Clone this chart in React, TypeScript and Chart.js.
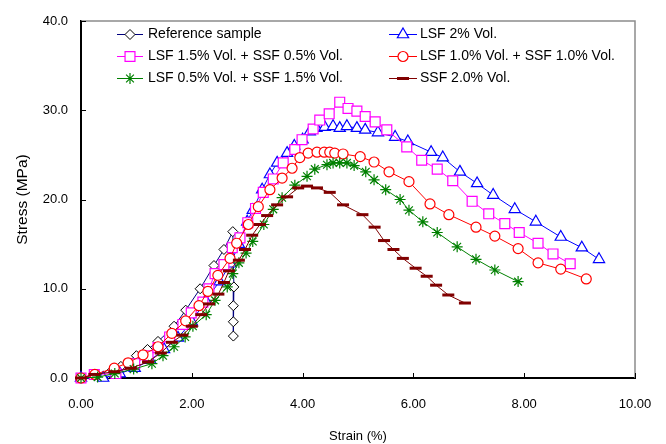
import React, { useEffect, useRef } from 'react';
import { Chart, registerables } from 'chart.js';
import { drawPoint } from 'chart.js/helpers';

Chart.register(...registerables);

const FONT = '"Liberation Sans", Arial, Helvetica, sans-serif';

const xTicks = [0, 2, 4, 6, 8, 10];
const yTicks = [0, 10, 20, 30, 40];
const xTitle = 'Strain (%)';
const yTitle = 'Stress (MPa)';

const seriesNames = [
  'Reference sample',
  'LSF 2% Vol.',
  'LSF 1.5% Vol. + SSF 0.5% Vol.',
  'LSF 1.0% Vol. + SSF 1.0% Vol.',
  'LSF 0.5% Vol. + SSF 1.5% Vol.',
  'SSF 2.0% Vol.',
];

const refX = [0, 0.25, 0.5, 0.72, 1.0, 1.2, 1.39, 1.68, 1.89, 2.15, 2.4, 2.58, 2.74, 2.76, 2.75, 2.75, 2.75];
const refY = [0, 0.3, 0.5, 1.3, 2.5, 3.2, 4.1, 5.8, 7.6, 10.0, 12.6, 14.4, 16.4, 10.2, 8.1, 6.3, 4.7];

const lsf2X = [0, 0.4, 0.7, 0.97, 1.25, 1.5, 1.75, 2.0, 2.25, 2.5, 2.7, 2.85, 3.0, 3.1, 3.27, 3.41, 3.54, 3.72, 3.85, 4.0, 4.13, 4.25, 4.4, 4.55, 4.67, 4.8, 4.98, 5.13, 5.36, 5.67, 5.9, 6.32, 6.53, 6.84, 7.15, 7.44, 7.83, 8.21, 8.66, 9.04, 9.35];
const lsf2Y = [0, 0, 0.5, 1.1, 2.0, 3.2, 4.5, 6.3, 8.7, 10.8, 12.8, 15.0, 17.5, 18.8, 21.1, 22.8, 24.1, 25.2, 26.0, 26.7, 27.6, 28.0, 28.1, 28.2, 28.0, 28.2, 28.0, 27.8, 27.5, 27.0, 26.5, 25.3, 24.7, 23.1, 21.8, 20.5, 18.9, 17.5, 15.8, 14.6, 13.3];

const lsf15X = [0, 0.24, 0.63, 0.97, 1.21, 1.39, 1.6, 1.84, 1.99, 2.2, 2.31, 2.42, 2.58, 2.73, 2.87, 3.01, 3.15, 3.29, 3.47, 3.65, 3.86, 3.99, 4.19, 4.31, 4.48, 4.67, 4.82, 4.98, 5.13, 5.31, 5.52, 5.88, 6.15, 6.43, 6.71, 7.06, 7.36, 7.65, 7.91, 8.25, 8.52, 8.83];
const lsf15Y = [0, 0.4, 0.5, 1.6, 2.5, 3.4, 4.6, 6.0, 7.3, 8.5, 10.0, 11.7, 12.7, 14.6, 15.7, 17.4, 19.0, 20.8, 22.3, 24.1, 25.6, 26.7, 27.9, 28.9, 29.6, 30.9, 30.2, 29.9, 29.3, 28.7, 27.8, 25.9, 24.4, 23.4, 22.1, 19.8, 18.4, 17.3, 16.3, 15.1, 13.9, 12.8];

const lsf10X = [0, 0.25, 0.6, 0.85, 1.12, 1.39, 1.64, 1.89, 2.13, 2.29, 2.47, 2.69, 2.81, 3.02, 3.2, 3.41, 3.63, 3.81, 3.95, 4.1, 4.26, 4.39, 4.49, 4.58, 4.73, 5.04, 5.29, 5.56, 5.92, 6.3, 6.64, 7.13, 7.47, 7.89, 8.25, 8.66, 9.12];
const lsf10Y = [0, 0.4, 1.1, 1.7, 2.6, 3.5, 5.0, 6.4, 8.1, 9.7, 11.5, 13.4, 15.1, 17.2, 19.2, 21.1, 22.4, 23.5, 24.7, 25.2, 25.3, 25.3, 25.3, 25.2, 25.1, 24.8, 24.2, 23.1, 22.0, 19.5, 18.3, 16.9, 15.9, 14.5, 12.9, 12.2, 11.1];

const lsf05X = [0, 0.3, 0.61, 0.95, 1.28, 1.48, 1.68, 1.88, 2.02, 2.26, 2.42, 2.64, 2.74, 2.85, 2.98, 3.1, 3.3, 3.47, 3.63, 3.86, 4.08, 4.22, 4.44, 4.55, 4.67, 4.8, 4.93, 5.14, 5.29, 5.5, 5.76, 5.92, 6.17, 6.43, 6.79, 7.13, 7.47, 7.89];
const lsf05Y = [0, 0.1, 0.5, 1.0, 1.6, 2.5, 3.5, 4.6, 5.8, 7.1, 8.7, 10.2, 11.7, 12.9, 14.0, 15.3, 17.2, 18.9, 20.2, 21.6, 22.6, 23.4, 23.9, 24.1, 24.1, 24.1, 23.8, 23.1, 22.2, 21.1, 20.0, 18.8, 17.5, 16.3, 14.7, 13.3, 12.1, 10.8];

const ssfX = [0, 0.24, 0.6, 0.9, 1.21, 1.44, 1.64, 1.83, 2.0, 2.17, 2.31, 2.48, 2.58, 2.67, 2.85, 2.96, 3.09, 3.23, 3.36, 3.54, 3.72, 3.92, 4.08, 4.26, 4.49, 4.73, 5.08, 5.3, 5.47, 5.64, 5.81, 6.04, 6.24, 6.41, 6.63, 6.93];
const ssfY = [0, 0.4, 0.7, 1.1, 1.8, 2.8, 4.0, 4.8, 5.8, 7.1, 8.3, 9.4, 10.7, 12.0, 13.2, 14.4, 16.0, 17.2, 18.2, 19.4, 20.3, 21.3, 21.5, 21.3, 20.8, 19.4, 18.3, 16.9, 15.4, 14.4, 13.4, 12.3, 11.4, 10.4, 9.3, 8.4];

const lineColors = ['#000080', '#0000FF', '#FF00FF', '#FF0000', '#008000', '#800000'];
const markerBorders = ['#000000', '#0000FF', '#FF00FF', '#FF0000', '#008000', '#800000'];
const markerFills = ['#FFFFFF', '#FFFFFF', '#FFFFFF', '#FFFFFF', '#008000', '#800000'];
const markerStyles = ['rectRot', 'triangle', 'rect', 'circle', 'star', 'line'];
const markerRadii = [5, 6.5, 7, 5, 5.5, 6];
const markerWidths = [1, 1.2, 1.2, 1.2, 1.2, 3];

const allX = [refX, lsf2X, lsf15X, lsf10X, lsf05X, ssfX];
const allY = [refY, lsf2Y, lsf15Y, lsf10Y, lsf05Y, ssfY];

const legendPlugin = {
  id: 'customDeco',
  beforeDatasetsDraw(chart: any) {
    const { ctx, chartArea: ca, scales } = chart;
    ctx.save();
    ctx.strokeStyle = '#8c8c8c';
    ctx.lineWidth = 1.5;
    ctx.beginPath();
    ctx.moveTo(ca.left, ca.top);
    ctx.lineTo(ca.right, ca.top);
    ctx.lineTo(ca.right, ca.bottom);
    ctx.stroke();
    ctx.strokeStyle = '#000000';
    ctx.lineWidth = 1;
    for (const v of xTicks) {
      const px = Math.round(scales.x.getPixelForValue(v)) + 0.5;
      ctx.beginPath();
      ctx.moveTo(px, ca.bottom);
      ctx.lineTo(px, ca.bottom - 5);
      ctx.stroke();
    }
    for (const v of yTicks) {
      const py = Math.round(scales.y.getPixelForValue(v)) + 0.5;
      ctx.beginPath();
      ctx.moveTo(ca.left, py);
      ctx.lineTo(ca.left + 5, py);
      ctx.stroke();
    }
    ctx.restore();
  },
  afterDraw(chart: any) {
    const { ctx } = chart;
    ctx.save();
    const cols = [[117, 143, 148], [389, 417, 420]];
    const rows = [34, 56, 78];
    ctx.font = '14px ' + FONT;
    ctx.textBaseline = 'middle';
    ctx.textAlign = 'left';
    seriesNames.forEach((name, i) => {
      const c = cols[i % 2];
      const y = rows[Math.floor(i / 2)];
      ctx.strokeStyle = lineColors[i];
      ctx.lineWidth = 1;
      ctx.beginPath();
      ctx.moveTo(c[0], y + 0.5);
      ctx.lineTo(c[1], y + 0.5);
      ctx.stroke();
      ctx.strokeStyle = markerBorders[i];
      ctx.fillStyle = markerFills[i];
      ctx.lineWidth = markerWidths[i];
      drawPoint(ctx, { pointStyle: markerStyles[i], rotation: 0, radius: markerRadii[i], borderWidth: markerWidths[i] } as any, (c[0] + c[1]) / 2, y + 0.5);
      ctx.fillStyle = '#000000';
      ctx.fillText(name, c[2], y);
    });
    ctx.restore();
  },
};

export default function App() {
  const ref = useRef<HTMLCanvasElement | null>(null);
  useEffect(() => {
    if (!ref.current) return;
    const datasets = seriesNames.map((name, i) => ({
      label: name,
      data: allX[i].map((x, k) => ({ x, y: allY[i][k] })),
      showLine: true,
      borderColor: lineColors[i],
      borderWidth: 1,
      backgroundColor: markerFills[i],
      pointStyle: markerStyles[i],
      pointRadius: markerRadii[i],
      pointBorderColor: markerBorders[i],
      pointBackgroundColor: markerFills[i],
      pointBorderWidth: markerWidths[i],
      tension: 0,
      clip: false,
      order: 6 - i,
    }));
    const chart = new Chart(ref.current, {
      type: 'scatter',
      data: { datasets },
      options: {
        animation: false,
        responsive: false,
        maintainAspectRatio: false,
        events: [],
        layout: { padding: { left: 0, top: 21, right: 31, bottom: 0 } },
        plugins: { legend: { display: false }, tooltip: { enabled: false } },
        scales: {
          x: {
            type: 'linear',
            min: 0,
            max: 10,
            afterFit: (s: any) => { s.height = 66; s.paddingLeft = 0; s.paddingRight = 0; },
            afterBuildTicks: (s: any) => { s.ticks = xTicks.map((v) => ({ value: v })); },
            ticks: {
              color: '#000',
              font: { family: FONT, size: 13 },
              padding: 19,
              maxRotation: 0,
              callback: (v: any) => Number(v).toFixed(2),
            },
            grid: { display: true, drawOnChartArea: false, drawTicks: false },
            border: { display: true, color: '#000', width: 2 },
            title: { display: true, text: xTitle, color: '#000', font: { family: FONT, size: 13 }, padding: { top: 0, bottom: 0 } },
          },
          y: {
            type: 'linear',
            min: 0,
            max: 40,
            afterFit: (s: any) => { s.width = 81; s.paddingTop = 0; s.paddingBottom = 0; },
            afterBuildTicks: (s: any) => { s.ticks = yTicks.map((v) => ({ value: v })); },
            ticks: {
              color: '#000',
              font: { family: FONT, size: 13 },
              padding: 13,
              callback: (v: any) => Number(v).toFixed(1),
            },
            grid: { display: true, drawOnChartArea: false, drawTicks: false },
            border: { display: true, color: '#000', width: 2 },
            title: { display: true, text: yTitle, color: '#000', font: { family: FONT, size: 15.5 }, padding: { top: 13, bottom: 0 } },
          },
        },
      },
      plugins: [legendPlugin],
    } as any);
    return () => chart.destroy();
  }, []);
  return (
    <div style={{ position: 'fixed', left: 0, top: 0, width: 666, height: 444, background: '#fff' }}>
      <canvas ref={ref} width={666} height={444} style={{ width: 666, height: 444, display: 'block' }} />
    </div>
  );
}
